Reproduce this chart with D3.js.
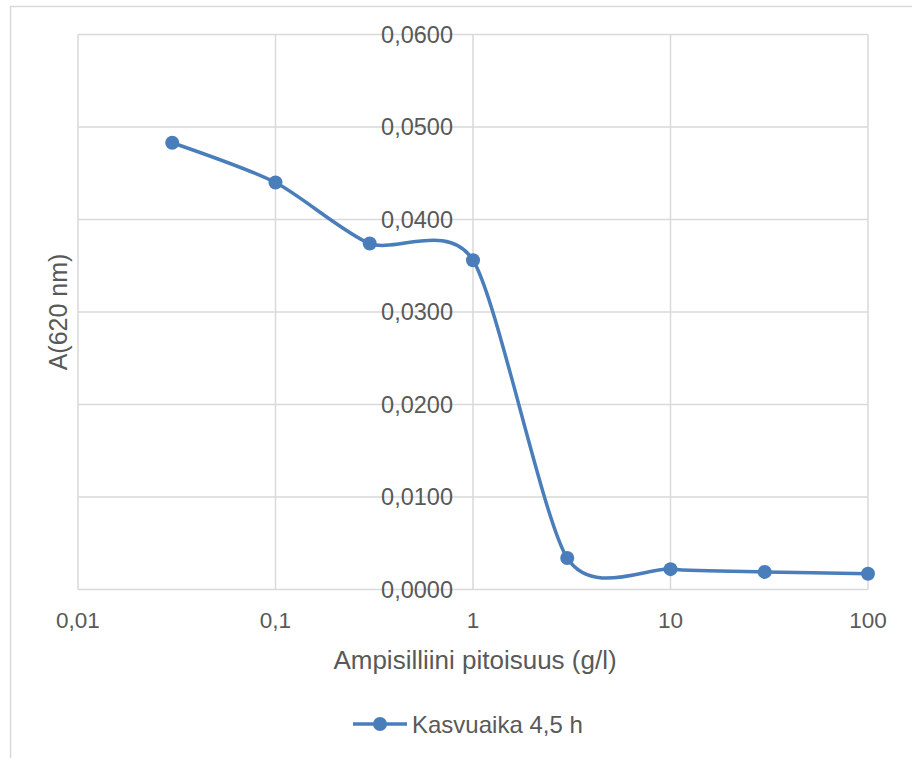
<!DOCTYPE html>
<html>
<head>
<meta charset="utf-8">
<script src="https://cdn.jsdelivr.net/npm/d3@7"></script>
<style>
  body { margin: 0; background: #fff; }
  text { font-family: "Liberation Sans", Arial, sans-serif; fill: #595959; }
</style>
</head>
<body>
<div id="chart"></div>
<script>
  // data
  var concentrations = [0.03, 0.1, 0.3, 1, 3, 10, 30, 100];
  var absorbance = [0.0483, 0.0440, 0.0374, 0.0356, 0.0034, 0.0022, 0.0019, 0.0017];
  var xTicks = [0.01, 0.1, 1, 10, 100];
  var yTicks = [0, 0.01, 0.02, 0.03, 0.04, 0.05, 0.06];
  var seriesName = "Kasvuaika 4,5 h";

  var data = concentrations.map(function(c, i) { return {x: c, y: absorbance[i]}; });

  var W = 912, H = 758;
  var margin = {top: 34.5, left: 78, right: 44, bottom: 168.5};
  var color = "#4a7ebb";

  var svg = d3.select("#chart").append("svg")
    .attr("width", W)
    .attr("height", H);

  // outer chart border (cut off on the right and bottom)
  svg.append("rect")
    .attr("x", 10.5).attr("y", 6.5)
    .attr("width", W + 20).attr("height", H + 20)
    .attr("fill", "none")
    .attr("stroke", "#d9d9d9")
    .attr("stroke-width", 1.5);

  var x = d3.scaleLog()
    .domain([0.01, 100])
    .range([margin.left, W - margin.right]);

  var y = d3.scaleLinear()
    .domain([0, 0.06])
    .range([H - margin.bottom, margin.top]);

  var fmtY = function(d) { return d.toFixed(4).replace(".", ","); };
  var fmtX = function(d) { return String(d).replace(".", ","); };

  // gridlines
  svg.append("g").selectAll("line.h")
    .data(yTicks).enter().append("line")
      .attr("x1", x(0.01)).attr("x2", x(100))
      .attr("y1", function(d) { return y(d); })
      .attr("y2", function(d) { return y(d); })
      .attr("stroke", "#d9d9d9").attr("stroke-width", 1.5);

  svg.append("g").selectAll("line.v")
    .data(xTicks).enter().append("line")
      .attr("x1", function(d) { return x(d); })
      .attr("x2", function(d) { return x(d); })
      .attr("y1", y(0.06)).attr("y2", y(0))
      .attr("stroke", "#d9d9d9").attr("stroke-width", 1.5);

  // y tick labels, sitting left of the axis at x = 1
  svg.append("g").selectAll("text")
    .data(yTicks).enter().append("text")
      .attr("x", x(1) - 20)
      .attr("y", function(d) { return y(d); })
      .attr("dy", "0.36em")
      .attr("text-anchor", "end")
      .style("font-size", "23.5px")
      .text(fmtY);

  // x tick labels
  svg.append("g").selectAll("text")
    .data(xTicks).enter().append("text")
      .attr("x", function(d) { return x(d); })
      .attr("y", y(0) + 38)
      .attr("text-anchor", "middle")
      .style("font-size", "22.5px")
      .text(fmtX);

  // axis titles
  svg.append("text")
    .attr("x", (x(0.01) + x(100)) / 2 + 2)
    .attr("y", y(0) + 79)
    .attr("text-anchor", "middle")
    .style("font-size", "26px")
    .text("Ampisilliini pitoisuus (g/l)");

  svg.append("text")
    .attr("transform", "translate(67," + ((y(0) + y(0.06)) / 2) + ") rotate(-90)")
    .attr("text-anchor", "middle")
    .style("font-size", "25px")
    .text("A(620 nm)");

  // the series, smoothed like the spreadsheet line
  var line = d3.line()
    .x(function(d) { return x(d.x); })
    .y(function(d) { return y(d.y); })
    .curve(d3.curveCardinal.tension(0.25));

  svg.append("path")
    .datum(data)
    .attr("d", line)
    .attr("fill", "none")
    .attr("stroke", color)
    .attr("stroke-width", 3.5)
    .attr("stroke-linecap", "round");

  svg.append("g").selectAll("circle")
    .data(data).enter().append("circle")
      .attr("cx", function(d) { return x(d.x); })
      .attr("cy", function(d) { return y(d.y); })
      .attr("r", 7)
      .attr("fill", color);

  // legend
  var lg = svg.append("g").attr("transform", "translate(353,724)");
  lg.append("line")
    .attr("x1", 0).attr("x2", 54)
    .attr("stroke", color).attr("stroke-width", 3.5);
  lg.append("circle").attr("cx", 27).attr("r", 7).attr("fill", color);
  lg.append("text")
    .attr("x", 59).attr("dy", "0.36em")
    .style("font-size", "24px")
    .text(seriesName);
</script>
</body>
</html>
